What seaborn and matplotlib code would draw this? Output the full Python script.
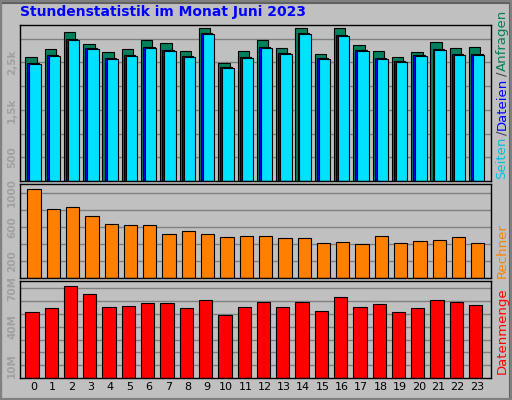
import numpy as np
import pandas as pd
import matplotlib
matplotlib.use("Agg")
import matplotlib.pyplot as plt
import seaborn as sns

hours = list(range(24))
anfragen = [2604, 2772, 3130, 2877, 2709, 2772, 2961, 2899, 2730, 3214, 2477, 2730,
            2961, 2793, 3214, 2667, 3214, 2856, 2730, 2604, 2709, 2919, 2793, 2814]
dateien = [2476, 2645, 2981, 2792, 2581, 2645, 2813, 2750, 2624, 3108, 2392, 2602,
           2813, 2687, 3108, 2581, 3066, 2750, 2581, 2518, 2645, 2771, 2666, 2666]
seiten = [2456, 2625, 2961, 2772, 2561, 2625, 2793, 2730, 2604, 3088, 2372, 2582,
          2793, 2667, 3088, 2561, 3046, 2730, 2561, 2498, 2625, 2751, 2646, 2646]
rechner = [1040, 803, 827, 720, 637, 625, 625, 518, 554, 518, 483, 495,
           495, 471, 471, 412, 424, 400, 495, 412, 435, 447, 483, 412]
datenmenge = [51.8, 54.2, 71.7, 65.3, 55.0, 55.8, 58.2, 58.2, 54.2, 60.6, 49.4, 55.0,
              59.0, 55.0, 59.0, 52.6, 62.9, 55.0, 57.4, 51.8, 54.2, 60.6, 59.0, 56.6]

sns.set_style("white")
plt.rcParams['font.family'] = ['DejaVu Sans']

bg = "#c0c0c0"
fig = plt.figure(figsize=(5.12, 4.0), dpi=100, facecolor=bg)
W, H = 512, 400

def mkax(top, bottom):
    ax = fig.add_axes([20 / W, 1 - bottom / H, 470.7 / W, (bottom - top) / H])
    ax.set_facecolor(bg)
    ax.set_xlim(-0.69, 23.71)
    for s in ax.spines.values():
        s.set_color("black")
        s.set_linewidth(1)
    ax.set_axisbelow(True)
    ax.grid(axis="y", color="#808080", linewidth=1)
    ax.tick_params(axis="y", length=0, labelsize=7.5, labelcolor="#a0a0a0", pad=2)
    ax.tick_params(axis="x", length=0)
    return ax

x = np.array(hours)
ec = dict(edgecolor="black", linewidth=0.8)
tick_style = dict(rotation=90, va="center", fontweight="bold", color="#a0a0a0", fontsize=7.5)

ax1 = mkax(25, 181)
ax1.bar(x - 0.12, anfragen, width=0.59, color="#00805c", **ec)
ax1.bar(x - 0.01, dateien, width=0.59, color="#0000ff", **ec)
ax1.bar(x + 0.09, seiten, width=0.59, color="#00e0ff", **ec)
ax1.set_ylim(0, 3285)
ax1.set_yticks(np.arange(500, 3001, 500))
ax1.set_yticklabels(["500", "", "1,5k", "", "2,5k", ""], **tick_style)
ax1.set_xticks([])

df_r = pd.DataFrame({"h": hours, "v": rechner})
ax2 = mkax(184, 278)
sns.barplot(data=df_r, x="h", y="v", ax=ax2, color="#ff8000", saturation=1,
            width=0.69, native_scale=True, **ec)
for p in ax2.patches:
    p.set_x(p.get_x() + 0.04)
ax2.set_ylim(0, 1100)
ax2.set_yticks([200, 400, 600, 800, 1000])
ax2.set_yticklabels(["200", "", "600", "", "1000"], **tick_style)
ax2.set_xlim(-0.69, 23.71)
ax2.set_xticks([])
ax2.set_xlabel(""); ax2.set_ylabel("")

df_d = pd.DataFrame({"h": hours, "v": datenmenge})
ax3 = mkax(281, 378)
sns.barplot(data=df_d, x="h", y="v", ax=ax3, color="#ff0000", saturation=1,
            width=0.69, native_scale=True, **ec)
for p in ax3.patches:
    p.set_x(p.get_x() - 0.07)
ax3.set_ylim(0, 75.6)
ax3.set_yticks(np.arange(10, 71, 10))
ax3.set_yticklabels(["10M", "", "", "40M", "", "", "70M"], **tick_style)
ax3.set_xlim(-0.69, 23.71)
ax3.set_xticks(hours)
ax3.set_xticklabels([str(h) for h in hours], fontsize=8, color="black")
ax3.tick_params(axis="x", pad=3)
ax3.set_xlabel(""); ax3.set_ylabel("")

fig.text(20 / W, 1 - 12 / H, "Stundenstatistik im Monat Juni 2023", color="#0000ff",
         fontsize=10, fontweight="bold", va="center", ha="left")

# right side labels, chained bottom to top
rx = 502 / W
renderer = fig.canvas.get_renderer()
y0 = 1 - 179 / H
for word, col in [("Seiten", "#00c0e0"), ("/", "#404040"), ("Dateien", "#0000ff"),
                  ("/", "#404040"), ("Anfragen", "#00805c")]:
    t = fig.text(rx, y0, word, color=col, rotation=90, fontsize=9.5, ha="center", va="bottom")
    bb = t.get_window_extent(renderer)
    y0 += bb.height / H + 0.003
fig.text(rx, 1 - 251 / H, "Rechner", color="#ff8000", rotation=90, fontsize=9.5, ha="center", va="center")
fig.text(rx, 1 - 331 / H, "Datenmenge", color="#ff0000", rotation=90, fontsize=9.5, ha="center", va="center")

# outer frame
fig.add_artist(plt.Rectangle((0.5 / W, 0.5 / H), 509 / W, 397 / H, transform=fig.transFigure,
                             fill=False, edgecolor="#606060", linewidth=1.5))
fig.add_artist(plt.Rectangle((0, 0), 1, 1, transform=fig.transFigure,
                             fill=False, edgecolor="#808080", linewidth=3))

fig.savefig("out.png", dpi=100, facecolor=bg)
